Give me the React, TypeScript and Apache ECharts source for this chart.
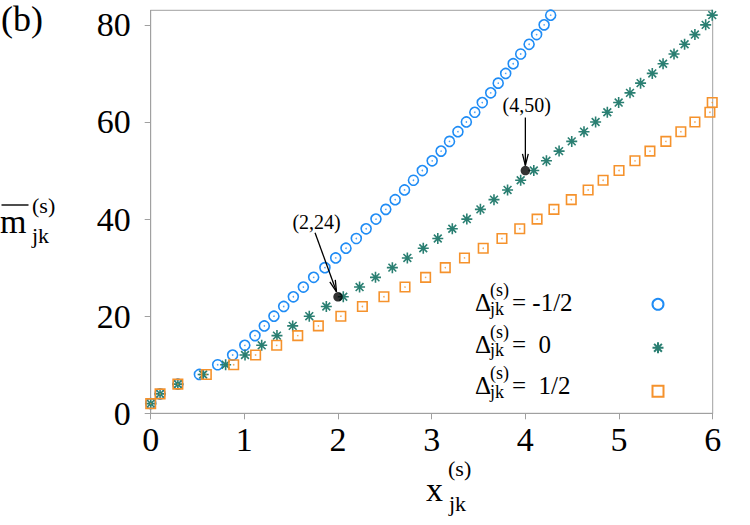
import React, { useEffect, useRef } from "react";
import * as echarts from "echarts";

// Mean value levels and the x positions where each curve reaches them
const mBlue = [2, 4, 6, 8, 10, 12, 14, 16, 18, 20, 22, 24, 26, 28, 30, 32, 34, 36, 38, 40, 42, 44, 46, 48, 50, 52, 54, 56, 58, 60, 62, 64, 66, 68, 70, 72, 74, 76, 78, 80, 82];
const xBlue = [0, 0.1, 0.29, 0.52, 0.715, 0.875, 1.005, 1.113, 1.213, 1.316, 1.42, 1.523, 1.63, 1.74, 1.86, 1.975, 2.085, 2.195, 2.3, 2.405, 2.51, 2.61, 2.71, 2.805, 2.9, 3.005, 3.1, 3.19, 3.28, 3.37, 3.46, 3.54, 3.63, 3.71, 3.79, 3.87, 3.95, 4.04, 4.12, 4.2, 4.27];

const mGreen = [2, 4, 6, 8, 10, 12, 14, 16, 18, 20, 22, 24, 26, 28, 30, 32, 34, 36, 38, 40, 42, 44, 46, 48, 50, 52, 54, 56, 58, 60, 62, 64, 66, 68, 70, 72, 74, 76, 78, 80, 82];
const xGreen = [0, 0.1, 0.29, 0.56, 0.8, 1.007, 1.185, 1.348, 1.516, 1.693, 1.875, 2.056, 2.23, 2.4, 2.58, 2.74, 2.91, 3.065, 3.22, 3.375, 3.52, 3.665, 3.81, 3.95, 4.09, 4.225, 4.36, 4.495, 4.626, 4.75, 4.875, 4.996, 5.117, 5.23, 5.355, 5.47, 5.587, 5.7, 5.81, 5.925, 5.995];

const mOrange = [2, 4, 6, 8, 10, 12, 14, 16, 18, 20, 22, 24, 26, 28, 30, 32, 34, 36, 38, 40, 42, 44, 46, 48, 50, 52, 54, 56, 58, 60, 62, 64];
const xOrange = [0, 0.1, 0.29, 0.594, 0.886, 1.12, 1.345, 1.57, 1.79, 2.03, 2.26, 2.49, 2.715, 2.935, 3.145, 3.35, 3.55, 3.75, 3.94, 4.125, 4.305, 4.49, 4.67, 4.83, 5.0, 5.17, 5.33, 5.5, 5.66, 5.81, 5.97, 5.995];

const seriesNames = ["Δ = -1/2", "Δ = 0", "Δ = 1/2"];
const legendValues = ["= -1/2", "=  0", "=  1/2"];

const xTicks = [0, 1, 2, 3, 4, 5, 6];
const yTicks = [0, 20, 40, 60, 80];

// Highlighted points with their coordinate labels
const annotX = [2, 4];
const annotY = [24, 50];
const annotLabels = ["(2,24)", "(4,50)"];

const BLUE = "#1f8cf5";
const GREEN = "#2a7f72";
const ORANGE = "#f5922c";
const AXIS = "#a0a0a0";
const SERIF = "Liberation Serif";

const STAR = "path://M0,5L10,5M5,0L5,10M1.46,1.46L8.54,8.54M8.54,1.46L1.46,8.54";

// pixel offsets of label centre / arrow tail / arrow tip relative to each highlighted point
const annotLayout = [
  { text: [-21.5, -75], tail: [-23, -64], tip: [-1.5, -5] },
  { text: [1.3, -66], tail: [0, -53], tip: [0, -5] },
];

const pairs = (xs: number[], ms: number[]) => xs.map((x, i) => [x, ms[i]]);

function txt(text: string, x: number, y: number, size: number) {
  return {
    type: "text",
    x,
    y,
    z: 100,
    silent: true,
    style: {
      text,
      fontFamily: SERIF,
      fontSize: size,
      fill: "#000",
      align: "left",
      verticalAlign: "middle",
    },
  };
}

function arrow(x1: number, y1: number, x2: number, y2: number) {
  const ang = Math.atan2(y2 - y1, x2 - x1);
  const L = 12;
  const a = (14 * Math.PI) / 180;
  const p1 = [x2 - L * Math.cos(ang - a), y2 - L * Math.sin(ang - a)];
  const p2 = [x2 - L * Math.cos(ang + a), y2 - L * Math.sin(ang + a)];
  return [
    { type: "line", z: 100, silent: true, shape: { x1, y1, x2, y2 }, style: { stroke: "#000", lineWidth: 1.3 } },
    {
      type: "polyline",
      z: 100,
      silent: true,
      shape: { points: [p1, [x2, y2], p2] },
      style: { stroke: "#000", fill: "none", lineWidth: 1.3 },
    },
  ];
}

export default function App() {
  const ref = useRef<HTMLDivElement>(null);

  useEffect(() => {
    if (!ref.current) return;
    const chart = echarts.init(ref.current, null, { renderer: "svg" });

    const markerSeries = (name: string, data: number[][], symbol: string, size: number, color: string, z: number) => ({
      name,
      type: "scatter",
      data,
      symbol,
      symbolSize: size,
      z,
      itemStyle: { color: symbol === STAR ? color : "rgba(0,0,0,0)", borderColor: color, borderWidth: 1.6, opacity: 1 },
      emphasis: { disabled: true },
    });
    const dotSeries = (data: number[][], color: string, z: number) => ({
      type: "scatter",
      data,
      symbol: "circle",
      symbolSize: 1.6,
      z,
      silent: true,
      itemStyle: { color },
      emphasis: { disabled: true },
    });

    chart.setOption({
      animation: false,
      backgroundColor: "#fff",
      textStyle: { fontFamily: SERIF },
      grid: {
        left: 150.7,
        right: 37.3,
        top: 10.3,
        bottom: 111.7,
        show: true,
        borderColor: AXIS,
        borderWidth: 1,
      },
      xAxis: {
        type: "value",
        min: 0,
        max: 6,
        interval: 1,
        axisLine: { show: true, onZero: false, lineStyle: { color: AXIS, width: 1 } },
        axisTick: { show: true, inside: false, length: 6, lineStyle: { color: AXIS }, customValues: xTicks },
        axisLabel: { color: "#000", fontFamily: SERIF, fontSize: 34, margin: 9, customValues: xTicks },
        splitLine: { show: false },
      },
      yAxis: {
        type: "value",
        min: 0,
        max: 83,
        interval: 20,
        axisLine: { show: true, onZero: false, lineStyle: { color: AXIS, width: 1 } },
        axisTick: { show: true, inside: false, length: 6, lineStyle: { color: AXIS }, customValues: yTicks },
        axisLabel: { color: "#000", fontFamily: SERIF, fontSize: 34, margin: 20, customValues: yTicks },
        splitLine: { show: false },
      },
      legend: {
        data: seriesNames,
        orient: "vertical",
        left: 651.5,
        top: 297.8,
        padding: 0,
        itemWidth: 11,
        itemHeight: 11,
        itemGap: 30.5,
        formatter: () => "",
        textStyle: { fontSize: 10 },
        selectedMode: false,
      },
      series: [
        markerSeries(seriesNames[0], pairs(xBlue, mBlue), "circle", 10, BLUE, 2),
        dotSeries(pairs(xBlue, mBlue), BLUE, 2),
        markerSeries(seriesNames[1], pairs(xGreen, mGreen), STAR, 11, GREEN, 3),
        markerSeries(seriesNames[2], pairs(xOrange, mOrange), "rect", 9.5, ORANGE, 4),
        dotSeries(pairs(xOrange, mOrange), ORANGE, 4),
        {
          type: "scatter",
          data: pairs(annotX, annotY),
          symbol: "circle",
          symbolSize: 9.5,
          z: 10,
          silent: true,
          itemStyle: { color: "#000" },
        },
      ],
    });

    const graphics: any[] = [];
    // panel tag
    graphics.push(txt("(b)", 1, 19, 36));
    // y-axis name: m with overline, superscript (s), subscript jk
    graphics.push(txt("m", 0, 221.2, 34));
    graphics.push({ type: "line", z: 100, silent: true, shape: { x1: 1.5, y1: 205, x2: 28.5, y2: 205 }, style: { stroke: "#000", lineWidth: 1.4 } });
    graphics.push(txt("(s)", 32, 205.2, 22));
    graphics.push(txt("jk", 32, 235, 22));
    // x-axis name
    graphics.push(txt("x", 426, 489, 34));
    graphics.push(txt("(s)", 448, 468, 22));
    graphics.push(txt("jk", 449, 503.6, 22));
    // legend labels
    legendValues.forEach((v, i) => {
      const cy = 302.5 + i * 41.5;
      graphics.push(txt("Δ", 475, cy, 25));
      graphics.push(txt("(s)", 490, cy - 12.5, 18));
      graphics.push(txt("jk", 490, cy + 6.1, 18));
      graphics.push(txt(v, 512, cy, 25));
    });
    // annotations with arrows
    annotX.forEach((ax, i) => {
      const [px, py] = chart.convertToPixel({ gridIndex: 0 }, [ax, annotY[i]]) as number[];
      const lay = annotLayout[i];
      graphics.push({
        type: "text",
        x: px + lay.text[0],
        y: py + lay.text[1],
        z: 100,
        silent: true,
        style: {
          text: annotLabels[i],
          fontFamily: SERIF,
          fontSize: 20,
          fill: "#000",
          align: "center",
          verticalAlign: "middle",
        },
      });
      graphics.push(...arrow(px + lay.tail[0], py + lay.tail[1], px + lay.tip[0], py + lay.tip[1]));
    });

    chart.setOption({ graphic: graphics });

    return () => chart.dispose();
  }, []);

  return (
    <div
      ref={ref}
      style={{ position: "fixed", left: 0, top: 0, width: 750, height: 525, background: "#fff" }}
    />
  );
}
